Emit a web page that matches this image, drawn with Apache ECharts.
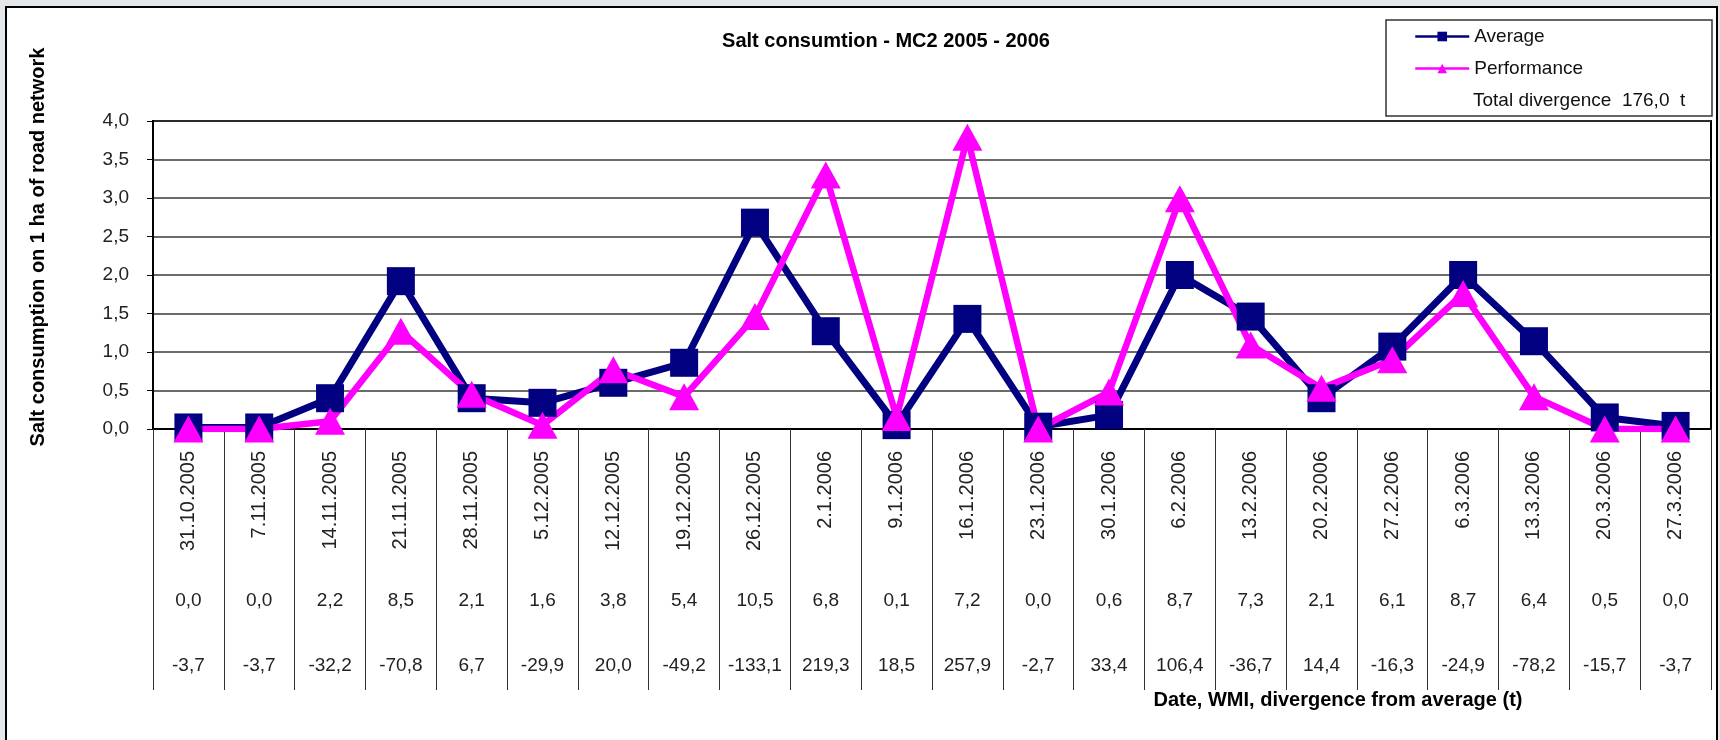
<!DOCTYPE html>
<html>
<head>
<meta charset="utf-8">
<script src="https://cdn.jsdelivr.net/npm/echarts@6/dist/echarts.min.js"></script>
<style>
  html, body { margin: 0; padding: 0; background: #e3e7ea; }
  #chart { width: 1720px; height: 740px; }
</style>
</head>
<body>
<div id="chart"></div>
<script>
// week dates on the category axis
const dates = ['31.10.2005', '7.11.2005', '14.11.2005', '21.11.2005', '28.11.2005', '5.12.2005', '12.12.2005', '19.12.2005', '26.12.2005', '2.1.2006', '9.1.2006', '16.1.2006', '23.1.2006', '30.1.2006', '6.2.2006', '13.2.2006', '20.2.2006', '27.2.2006', '6.3.2006', '13.3.2006', '20.3.2006', '27.3.2006']
// salt per 1 ha of road network
const average = [0.02, 0.02, 0.40, 1.92, 0.40, 0.34, 0.60, 0.86, 2.68, 1.27, 0.05, 1.43, 0.03, 0.18, 2.00, 1.46, 0.40, 1.07, 2.00, 1.14, 0.15, 0.04]
const performance = [0.0, 0.0, 0.10, 1.27, 0.45, 0.05, 0.77, 0.42, 1.46, 3.30, 0.15, 3.79, 0.0, 0.48, 2.99, 1.09, 0.53, 0.90, 1.76, 0.42, 0.0, 0.0]
// table rows under the axis
const wmi = [0.0, 0.0, 2.2, 8.5, 2.1, 1.6, 3.8, 5.4, 10.5, 6.8, 0.1, 7.2, 0.0, 0.6, 8.7, 7.3, 2.1, 6.1, 8.7, 6.4, 0.5, 0.0]
const divergence = [-3.7, -3.7, -32.2, -70.8, 6.7, -29.9, 20.0, -49.2, -133.1, 219.3, 18.5, 257.9, -2.7, 33.4, 106.4, -36.7, 14.4, -16.3, -24.9, -78.2, -15.7, -3.7]
const totalDivergence = 176.0

const font = '"Liberation Sans", Arial, sans-serif'
const comma = (v) => Number(v).toFixed(1).replace('.', ',')

const tableAxis = (labels, margin) => ({
    type: 'category',
    position: 'bottom',
    data: labels,
    boundaryGap: true,
    axisLine: { show: false },
    axisTick: { show: false },
    splitLine: { show: false },
    axisLabel: { interval: 0, margin, fontSize: 19, color: '#222', fontFamily: font },
})

const chart = echarts.init(document.getElementById('chart'), null, { renderer: 'canvas' })
chart.setOption({
    backgroundColor: '#e3e7ea',
    animation: false,
    textStyle: { fontFamily: font },
    title: {
        text: 'Salt consumtion - MC2 2005 - 2006',
        left: 881,
        top: 26,
        textAlign: 'center',
        textStyle: { fontSize: 20, fontWeight: 'bold', color: '#000', fontFamily: font },
    },
    legend: {
        orient: 'vertical',
        left: 1414,
        top: 27,
        padding: 0,
        itemGap: 13,
        itemWidth: 54,
        itemHeight: 12,
        lineStyle: { width: 2.5 },
        textStyle: { fontSize: 19, color: '#111', fontFamily: font },
        data: ['Average', 'Performance'],
    },
    grid: { left: 153, right: 9, top: 121, bottom: 311, show: true, borderColor: '#000', borderWidth: 2, backgroundColor: '#fff' },
    xAxis: [
        {
            type: 'category',
            position: 'bottom',
            data: dates,
            boundaryGap: true,
            axisLine: { show: true, lineStyle: { color: '#000', width: 2 } },
            axisTick: { show: true, interval: 0, length: 261, lineStyle: { color: '#333', width: 1 } },
            axisLabel: { interval: 0, rotate: 90, margin: 22, fontSize: 20, color: '#222', fontFamily: font },
        },
        tableAxis(wmi.map(comma), 162),
        tableAxis(divergence.map(comma), 227),
    ],
    yAxis: {
        type: 'value',
        min: 0,
        max: 4,
        interval: 0.5,
        axisLine: { show: true, lineStyle: { color: '#000', width: 2 } },
        axisTick: { show: true, length: 6, lineStyle: { color: '#000' } },
        splitLine: { show: true, lineStyle: { color: '#3a3a3a', width: 1.5 } },
        axisLabel: { margin: 24, fontSize: 19, color: '#222', fontFamily: font, formatter: comma },
    },
    graphic: [
        {
            type: 'rect',
            z: -10,
            silent: true,
            shape: { x: 6, y: 7, width: 1711, height: 800 },
            style: { fill: '#fff', stroke: '#000', lineWidth: 2 },
        },
        {
            type: 'rect',
            silent: true,
            shape: { x: 1386, y: 20, width: 326, height: 96 },
            style: { fill: 'none', stroke: '#333', lineWidth: 1.5 },
        },
        {
            type: 'text',
            x: 1473,
            y: 101,
            style: { text: 'Total divergence  ' + comma(totalDivergence) + '  t', font: '19px ' + font, fill: '#111', verticalAlign: 'middle' },
        },
        {
            type: 'text',
            x: 38,
            y: 247,
            rotation: Math.PI / 2,
            style: { text: 'Salt consumption on 1 ha of road network', font: 'bold 20px ' + font, fill: '#000', align: 'center', verticalAlign: 'middle' },
        },
        {
            type: 'text',
            x: 1338,
            y: 700,
            style: { text: 'Date, WMI, divergence from average (t)', font: 'bold 20px ' + font, fill: '#000', align: 'center', verticalAlign: 'middle' },
        },
    ],
    series: [
        {
            name: 'Average',
            type: 'line',
            data: average,
            color: '#000080',
            symbol: 'rect',
            symbolSize: 28,
            lineStyle: { width: 7, color: '#000080' },
            itemStyle: { color: '#000080' },
        },
        {
            name: 'Performance',
            type: 'line',
            data: performance,
            color: '#ff00ff',
            symbol: 'triangle',
            symbolSize: [30, 27],
            lineStyle: { width: 6.5, color: '#ff00ff' },
            itemStyle: { color: '#ff00ff' },
        },
    ],
})
</script>
</body>
</html>
